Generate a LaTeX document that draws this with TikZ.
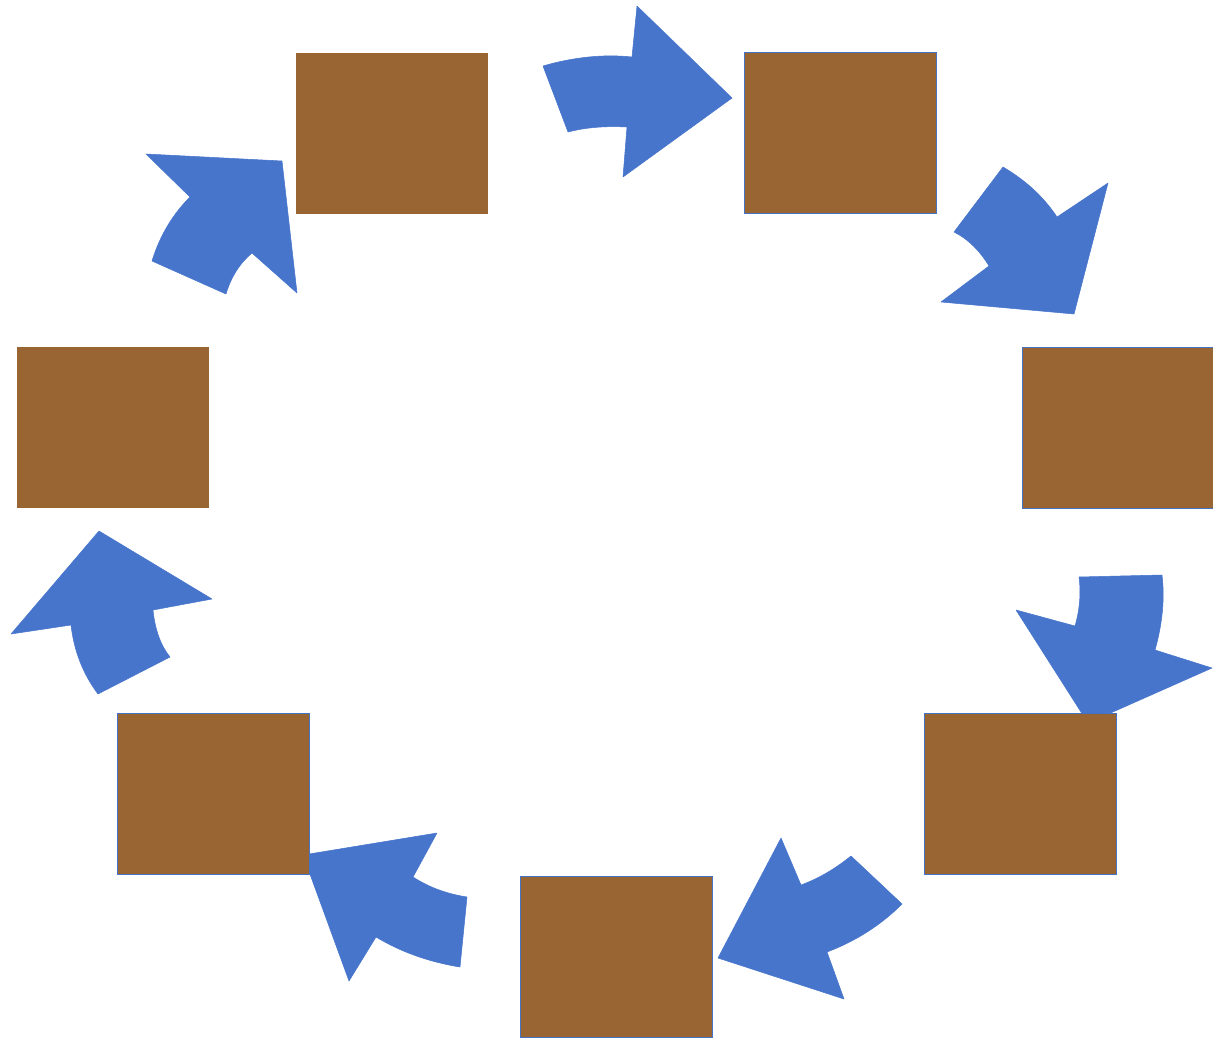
\documentclass[tikz,border=0pt]{standalone}
\usepackage{tikz}
\usetikzlibrary{positioning}
\definecolor{boxbrown}{HTML}{996633}
\definecolor{boxline}{HTML}{4472C4}
\definecolor{arrowblue}{HTML}{4775CC}
\tikzset{
  stagebox/.style = {fill=boxbrown, anchor=north west, inner sep=0pt,
    minimum width=3.84cm, minimum height=3.22cm},
  framed/.style = {draw=boxline, line width=0.6pt},
  blockarrow/.style = {fill=arrowblue, draw=arrowblue, line width=0.3pt, line join=round}
}
\begin{document}
\begin{tikzpicture}[x=0.02cm, y=-0.02cm]
    \useasboundingbox (0,0) rectangle (1213,1041);

    % curved block arrows, clockwise
    \path[blockarrow] (543,66) .. controls (574,57) and (604,54) .. (632,57) -- (637,6) -- (732,98)
      -- (623,177) -- (627,127) .. controls (607,126) and (587,127) .. (568,132) -- cycle;
    \path[blockarrow] (1003,167) .. controls (1025,180) and (1043,196) .. (1057,217) -- (1108,183) -- (1074,314)
      -- (941,302) -- (989,266) .. controls (980,251) and (968,239) .. (954,232) -- cycle;
    \path[blockarrow] (1162,575) .. controls (1165,600) and (1162,625) .. (1155,650) -- (1212,668) -- (1088,723)
      -- (1016,610) -- (1075,626) .. controls (1080,609) and (1081,592) .. (1079,577) -- cycle;
    \path[blockarrow] (902,904) .. controls (881,925) and (856,941) .. (827,952) -- (844,999) -- (718,958)
      -- (781,838) -- (801,885) .. controls (820,878) and (836,868) .. (851,856) -- cycle;
    \path[blockarrow] (460,967) .. controls (429,962) and (401,952) .. (376,937) -- (349,981) -- (303,855)
      -- (437,833) -- (413,877) .. controls (430,888) and (448,894) .. (467,897) -- cycle;
    \path[blockarrow] (98,694) .. controls (83,674) and (74,651) .. (71,625) -- (11,634) -- (99,531)
      -- (212,599) -- (153,610) .. controls (155,630) and (161,646) .. (170,657) -- cycle;
    \path[blockarrow] (152,261) .. controls (160,235) and (173,214) .. (190,197) -- (146,154) -- (282,161)
      -- (297,293) -- (252,253) .. controls (240,263) and (231,277) .. (226,294) -- cycle;

    % stages
    \node[stagebox] (topleft) at (296,53) {};
    \node[stagebox, framed] (topright) at (744,52) {};
    \node[stagebox, framed] (right) at (1022,347) {};
    \node[stagebox, framed] (bottomright) at (924,713) {};
    \node[stagebox, framed] (bottom) at (520,876) {};
    \node[stagebox, framed] (bottomleft) at (117,713) {};
    \node[stagebox] (left) at (17,347) {};
\end{tikzpicture}
\end{document}
